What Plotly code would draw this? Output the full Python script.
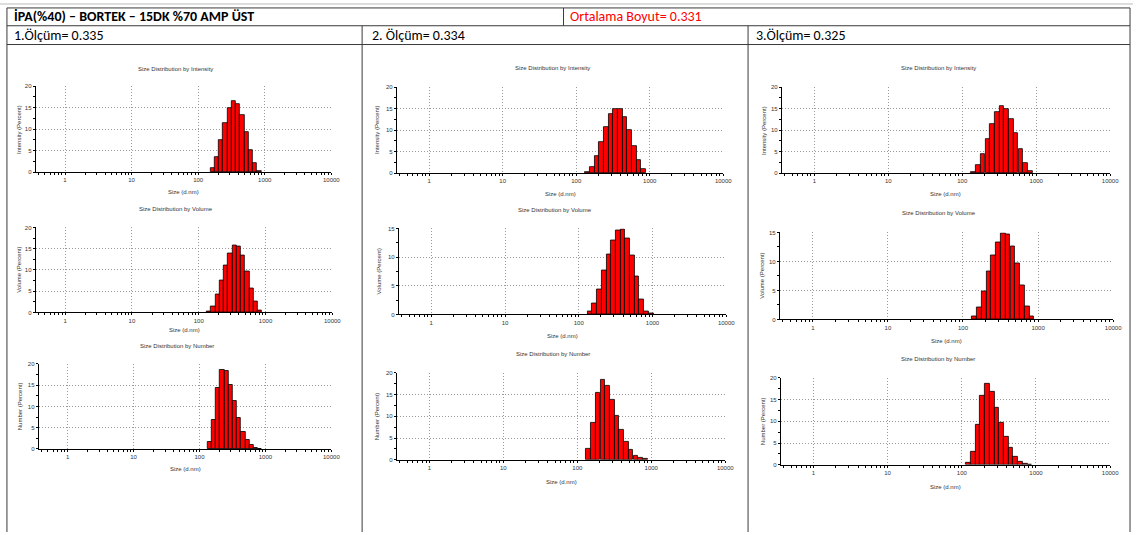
import numpy as np
import plotly.graph_objects as go

W, H = 1142, 535

# size classes (d.nm) - bar positions
size_nm = [105.7, 122.4, 141.8, 164.2, 190.1, 220.2, 255.0, 295.3, 342.0,
           396.1, 458.7, 531.2, 615.1, 712.4, 825.0, 955.4]

# 1. olcum
int_1 = [None, None, None, 0.9, 3.4, 7.4, 11.4, 14.9, 16.4, 15.9, 13.3, 9.3, 5.2, 2.1, 0.2, None]
vol_1 = [None, None, 0.3, 1.5, 4.2, 7.6, 11.0, 13.8, 15.7, 15.6, 13.4, 9.7, 5.6, 2.5, 0.4, None]
num_1 = [None, None, 1.6, 6.8, 14.4, 18.7, 18.3, 15.0, 11.2, 7.4, 4.1, 2.2, 0.9, 0.3, 0.05, None]
# 2. olcum
int_2 = [None, None, 0.2, 1.4, 4.0, 7.2, 10.7, 13.7, 15.0, 15.0, 13.0, 9.9, 6.3, 3.1, 0.9, None]
vol_2 = [None, None, 0.5, 1.9, 4.4, 7.6, 10.5, 12.9, 14.7, 14.9, 13.2, 10.3, 6.6, 2.7, 0.6, 0.15]
num_2 = [None, None, 2.6, 8.6, 15.5, 18.3, 16.9, 13.7, 10.2, 7.0, 4.2, 2.2, 0.9, 0.4, 0.15, None]
# 3. olcum
int_3 = [None, None, 0.2, 1.8, 4.4, 7.9, 11.3, 14.2, 15.5, 15.0, 12.6, 9.2, 5.5, 2.4, 0.5, None]
vol_3 = [None, None, 0.5, 2.0, 4.9, 8.2, 11.1, 13.3, 14.9, 14.7, 12.6, 9.6, 5.9, 2.2, 0.5, None]
num_3 = [None, 0.5, 3.0, 9.3, 15.9, 18.6, 16.7, 13.2, 9.7, 6.5, 3.8, 1.9, 0.8, 0.3, 0.1, None]

header_title = "İPA(%40) – BORTEK – 15DK %70 AMP ÜST"
mean_label = "Ortalama Boyut= 0.331"
run_labels = ["1.Ölçüm= 0.335", "2. Ölçüm= 0.334", "3.Ölçüm= 0.325"]
dist_titles = ["Size Distribution by Intensity", "Size Distribution by Volume",
               "Size Distribution by Number"]
y_titles = ["Intensity (Percent)", "Volume (Percent)", "Number (Percent)"]
x_title = "Size (d.nm)"
x_tick_text = ["1", "10", "100", "1000", "10000"]

series = [[int_1, vol_1, num_1], [int_2, vol_2, num_2], [int_3, vol_3, num_3]]
y_max = [[20, 20, 20], [20, 15, 20], [20, 15, 20]]

# pixel boxes: (left, right, top, bottom) of each plot area, + title y, x-title y, y-title x
boxes = [
    [(36, 334, 84, 171, 67, 191, 19), (36, 335, 227, 313, 208, 331, 19), (39, 334, 365, 451, 347, 471, 21)],
    [(400, 729, 85, 172, 66, 193, 380), (402, 732, 228, 315, 209, 337, 382), (400, 731, 374, 462, 355, 484, 380)],
    [(788, 1119, 85, 172, 66, 193, 770), (786, 1122, 232, 320, 212, 342, 768), (787, 1119, 379, 467, 360, 489, 769)],
]

log_size = np.log10(size_nm)
minor_x = [np.log10(m * 10.0 ** k) for k in range(-1, 4) for m in range(2, 10) if np.log10(m * 10.0 ** k) > -0.44]

def px(x):
    return x / W

def py(y):
    return 1 - y / H

fig = go.Figure()
small = dict(family="Liberation Sans, Arial", size=6, color="#333333")
annotations = []
n = 0
for c in range(3):
    for r in range(3):
        n += 1
        sfx = "" if n == 1 else str(n)
        x0, x1, yt, yb, ty, xty, ytx = boxes[c][r]
        fig.add_trace(go.Bar(
            x=log_size, y=series[c][r], xaxis="x" + sfx, yaxis="y" + sfx,
            width=0.0628, marker=dict(color="#ff0000", line=dict(color="#000000", width=0.8)),
            showlegend=False, hoverinfo="skip"))
        fig.update_layout({
            "xaxis" + sfx: dict(
                domain=[px(x0), px(x1)], anchor="y" + sfx, range=[-0.44, 4.0],
                tickmode="array", tickvals=[0, 1, 2, 3, 4], ticktext=x_tick_text,
                ticks="outside", ticklen=2, tickcolor="#000", tickfont=small,
                showline=True, linecolor="#000", linewidth=1,
                showgrid=True, gridcolor="#9a9a9a", griddash="1px,2px", gridwidth=1,
                zeroline=False, fixedrange=True,
                minor=dict(tickmode="array", tickvals=minor_x, ticks="outside", ticklen=2,
                           tickcolor="#000", showgrid=False)),
            "yaxis" + sfx: dict(
                domain=[py(yb), py(yt)], anchor="x" + sfx, range=[0, y_max[c][r]],
                tick0=0, dtick=5, ticks="outside", ticklen=2, tickcolor="#000", tickfont=small,
                showline=True, linecolor="#000", linewidth=1,
                showgrid=True, gridcolor="#9a9a9a", griddash="1px,2px", gridwidth=1,
                zeroline=False, fixedrange=True,
                minor=dict(dtick=2.5, ticks="outside", ticklen=2, tickcolor="#000", showgrid=False)),
        })
        mid = (x0 + x1) / 2
        annotations.append(dict(text=dist_titles[r], x=px(mid - 8), y=py(ty), xref="paper", yref="paper",
                                showarrow=False, font=small, xanchor="center", yanchor="middle"))
        annotations.append(dict(text=x_title, x=px(mid), y=py(xty), xref="paper", yref="paper",
                                showarrow=False, font=small, xanchor="center", yanchor="middle"))
        annotations.append(dict(text=y_titles[r], x=px(ytx), y=py((yt + yb) / 2), xref="paper", yref="paper",
                                showarrow=False, font=small, textangle=-90, xanchor="center", yanchor="middle"))

cell_font = "Carlito, Liberation Sans Narrow, Liberation Sans"
annotations.append(dict(text="<b>" + header_title + "</b>", x=px(12), y=py(14), xref="paper", yref="paper",
                        showarrow=False, xanchor="left", yanchor="middle",
                        font=dict(family=cell_font, size=14, color="#000")))
annotations.append(dict(text=mean_label, x=px(573), y=py(14), xref="paper", yref="paper",
                        showarrow=False, xanchor="left", yanchor="middle",
                        font=dict(family=cell_font, size=14, color="#ff0000")))
for x_left, lbl in zip([12, 373, 760], run_labels):
    annotations.append(dict(text=lbl, x=px(x_left), y=py(33), xref="paper", yref="paper",
                            showarrow=False, xanchor="left", yanchor="middle",
                            font=dict(family=cell_font, size=14, color="#000")))

# table grid lines
line = dict(color="#3a3a3a", width=1)
segs = [
    (7, 5, 1139, 5), (7, 23, 1139, 23), (7, 42, 1139, 42),
    (7, 5, 7, 535), (1139, 5, 1139, 535), (568, 5, 568, 23),
    (365, 23, 365, 535), (754, 23, 754, 535),
]
shapes = [dict(type="line", xref="paper", yref="paper", x0=px(a), y0=py(b), x1=px(c2), y1=py(d), line=line)
          for a, b, c2, d in segs]
shapes.append(dict(type="line", xref="paper", yref="paper", x0=0, y0=py(1), x1=1, y1=py(1),
                   line=dict(color="#bbbbbb", width=1)))

fig.update_layout(
    width=W, height=H, margin=dict(l=0, r=0, t=0, b=0),
    paper_bgcolor="white", plot_bgcolor="white",
    bargap=0, annotations=annotations, shapes=shapes,
)

fig.write_html("out.html", config={"displayModeBar": False},
               post_script="document.body.style.margin='0';document.body.style.overflow='hidden';")
